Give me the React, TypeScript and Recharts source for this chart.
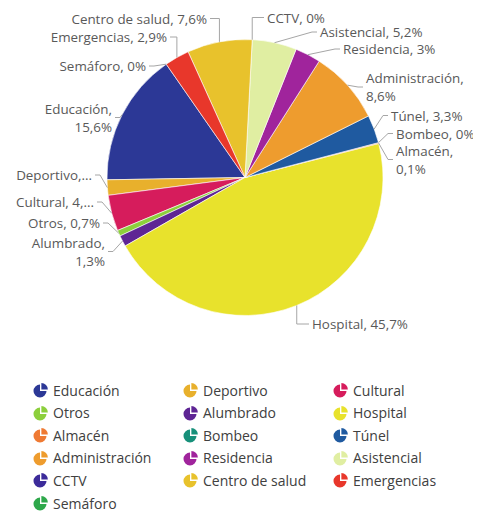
import React from 'react';
import { PieChart, Pie, Cell } from 'recharts';

const categories = [
  'Educación', 'Deportivo', 'Cultural', 'Otros', 'Alumbrado', 'Hospital',
  'Almacén', 'Bombeo', 'Túnel', 'Administración', 'Residencia', 'Asistencial',
  'CCTV', 'Centro de salud', 'Emergencias', 'Semáforo',
];
const shares = [15.6, 1.8, 4.2, 0.7, 1.3, 45.7, 0.1, 0, 3.3, 8.6, 3, 5.2, 0, 7.6, 2.9, 0];
const colors = [
  '#2c3896', '#e8b02c', '#d61c5c', '#8ccf3c', '#5e2594', '#e8e22c',
  '#ef7a33', '#17907a', '#1f5aa0', '#ee9c2e', '#a0249c', '#e0eea2',
  '#3c2b9a', '#e8c22c', '#e8372b', '#2ea84b',
];

const data = categories.map((name, i) => ({ name, value: shares[i] }));

// label layout (style): text anchor point relative to pie centre, alignment, leader type
type LabelStyle = { dx: number; dy: number; anchor: 'start' | 'end'; wrap?: boolean; keep?: number; leader?: 'v' | 'd' };
const labelStyles: Record<string, LabelStyle> = {
  'Educación': { dx: -133, dy: -60, anchor: 'end', wrap: true },
  'Deportivo': { dx: -153, dy: -2.5, anchor: 'end', keep: 10 },
  'Cultural': { dx: -151, dy: 24.5, anchor: 'end', keep: 12 },
  'Otros': { dx: -145, dy: 45.5, anchor: 'end' },
  'Alumbrado': { dx: -140, dy: 74, anchor: 'end', wrap: true },
  'Hospital': { dx: 67, dy: 146.5, anchor: 'start', leader: 'v' },
  'Almacén': { dx: 151, dy: -18, anchor: 'start', wrap: true },
  'Bombeo': { dx: 151, dy: -44, anchor: 'start' },
  'Túnel': { dx: 146, dy: -62, anchor: 'start' },
  'Administración': { dx: 121, dy: -90.5, anchor: 'start', wrap: true },
  'Residencia': { dx: 98, dy: -128.5, anchor: 'start' },
  'Asistencial': { dx: 75, dy: -145.5, anchor: 'start' },
  'CCTV': { dx: 22, dy: -160, anchor: 'start', leader: 'v' },
  'Centro de salud': { dx: -38, dy: -159, anchor: 'end', leader: 'v' },
  'Emergencias': { dx: -78, dy: -140.5, anchor: 'end', leader: 'v' },
  'Semáforo': { dx: -99, dy: -111.5, anchor: 'end' },
};

const RAD = Math.PI / 180;
const fmt = (v: number) => String(v).replace('.', ',') + '%';
const LABEL_FONT = '"Open Sans", sans-serif';

const renderLabel = (props: any) => {
  const { cx, cy, midAngle, outerRadius, name, value } = props;
  const st = labelStyles[name];
  if (!st) return null;
  const ax = cx + outerRadius * Math.cos(-midAngle * RAD);
  const ay = cy + outerRadius * Math.sin(-midAngle * RAD);
  let full = `${name}, ${fmt(value)}`;
  if (st.keep) full = full.slice(0, st.keep) + '...';
  const lines = st.wrap ? [`${name},`, fmt(value)] : [full];
  const lh = 18;
  const tx = cx + st.dx;
  const ty = cy + st.dy;
  const dir = st.anchor === 'start' ? -1 : 1;
  const ex = tx + dir * 3;
  const kx = tx + dir * 8;
  const pts = st.leader === 'v'
    ? `${ax},${ay} ${ax},${ty} ${ex},${ty}`
    : `${ax},${ay} ${kx},${ty} ${ex},${ty}`;
  const top = ty - ((lines.length - 1) * lh) / 2;
  return (
    <g>
      <polyline points={pts} fill="none" stroke="#a6a6a6" strokeWidth={1} />
      {lines.map((l, i) => (
        <text key={i} x={tx} y={top + i * lh} textAnchor={st.anchor} dominantBaseline="central"
          fontFamily={LABEL_FONT} fontSize={13.4} fill="#595959">{l}</text>
      ))}
    </g>
  );
};

const PieIcon = ({ color }: { color: string }) => (
  <svg width={16} height={16} viewBox="0 0 16 16" style={{ display: 'block' }}>
    <path d="M7,9 L7,2.5 A6.5,6.5 0 1,0 13.5,9 Z" fill={color} />
    <path d="M8.4,7.6 L8.4,1.1 A6.5,6.5 0 0,1 14.9,7.6 Z" fill={color} />
  </svg>
);

const colX = [25, 175, 325];
const LegendBlock = () => (
  <div style={{ position: 'absolute', left: 0, top: 372, width: 473, height: 128 }}>
    {categories.map((name, i) => {
      const col = i % 3;
      const row = Math.floor(i / 3);
      return (
        <div key={name} style={{
          position: 'absolute', left: colX[col], top: row * 22.6,
          display: 'flex', alignItems: 'center', height: 20,
          fontFamily: LABEL_FONT, fontSize: 14, color: '#404040', whiteSpace: 'nowrap',
        }}>
          <PieIcon color={colors[i]} />
          <span style={{ marginLeft: 4 }}>{name}</span>
        </div>
      );
    })}
  </div>
);

export default function App() {
  return (
    <div style={{ position: 'relative', width: 473, height: 503, background: '#fff' }}>
      <PieChart width={473} height={360} margin={{ top: 0, right: 0, bottom: 0, left: 0 }}>
        <Pie
          data={data}
          dataKey="value"
          nameKey="name"
          cx={237}
          cy={169.5}
          outerRadius={138}
          startAngle={124.8}
          endAngle={484.8}
          stroke="#ffffff"
          strokeWidth={0.6}
          label={renderLabel}
          labelLine={false}
          isAnimationActive={false}
        >
          {data.map((d, i) => (
            <Cell key={d.name} fill={colors[i]} />
          ))}
        </Pie>
      </PieChart>
      <LegendBlock />
    </div>
  );
}
